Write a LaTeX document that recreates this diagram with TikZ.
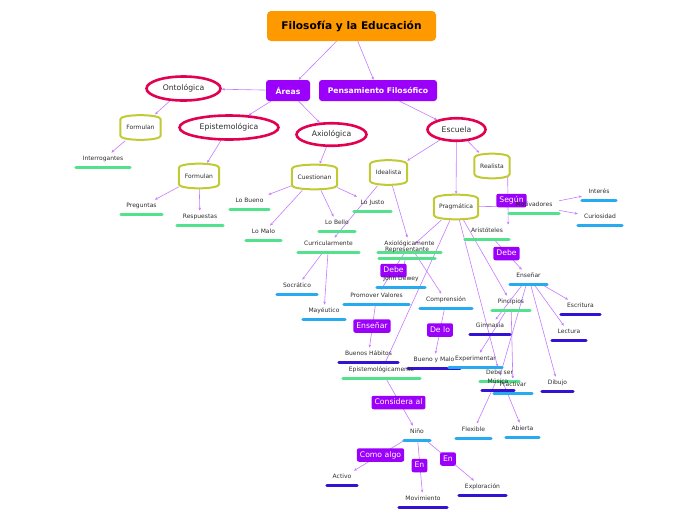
\documentclass[tikz,border=0pt]{standalone}
\usepackage{fontspec}
\setmainfont{DejaVu Sans}
\usetikzlibrary{shapes.geometric,arrows.meta,calc}
\pgfdeclarelayer{bg}
\pgfsetlayers{bg,main}
\definecolor{cline}{RGB}{196,122,255}
\definecolor{purp}{RGB}{155,0,250}
\definecolor{rootor}{RGB}{255,153,0}
\definecolor{ered}{RGB}{226,0,80}
\definecolor{olive}{RGB}{192,202,52}
\definecolor{ugreen}{RGB}{82,226,140}
\definecolor{ublue}{RGB}{38,170,240}
\definecolor{udark}{RGB}{52,18,212}
\definecolor{txt}{RGB}{45,45,45}
\tikzset{
  conn/.style={draw=cline, line width=0.6pt, -{Stealth[length=3pt,width=2.6pt]}},
  rootbox/.style={fill=rootor, rounded corners=4pt, minimum width=169pt, minimum height=30pt, inner sep=0pt, font=\fontsize{10.6}{12}\selectfont\bfseries, text=black},
  pbox/.style={fill=purp, rounded corners=3pt, minimum height=21pt, inner sep=0pt, font=\fontsize{7.7}{9}\selectfont\bfseries, text=white},
  ell/.style={ellipse, draw=ered, line width=2.6pt, inner sep=0pt, font=\fontsize{7.7}{9}\selectfont, text=txt},
  cyl/.style={rectangle, inner sep=0pt, font=\fontsize{6}{7}\selectfont, text=txt},
  cylline/.style={draw=olive, line width=2pt, line join=round},
  topic/.style={rectangle, inner sep=0pt, text height=8pt, text depth=6pt, anchor=south, font=\fontsize{6}{7}\selectfont, text=txt,
    append after command={(\tikzlastnode.south west) edge[draw=#1, line width=3pt, line cap=round, -] (\tikzlastnode.south east)}},
  lbl/.style={fill=purp, rounded corners=2pt, inner xsep=3pt, inner ysep=0pt, minimum height=13.5pt, text height=5.6pt, text depth=1.6pt, font=\fontsize{7.7}{9}\selectfont, text=white},
}
\newcommand\cylout[1]{%
  \draw[cylline] ([yshift=-5pt]#1.north west) .. controls ([yshift=0.5pt]#1.north west) and ([yshift=0.5pt]#1.north east) .. ([yshift=-5pt]#1.north east) -- ([yshift=5pt]#1.south east) .. controls ([yshift=-0.5pt]#1.south east) and ([yshift=-0.5pt]#1.south west) .. ([yshift=5pt]#1.south west) -- cycle;}
\begin{document}
\begin{tikzpicture}[x=1pt,y=-1pt]
\useasboundingbox (0,0) rectangle (696,520);
% main nodes
\node[rootbox] (root) at (351.5,26) {Filosofía y la Educación};
\node[pbox, minimum width=44pt] (areas) at (288,90.5) {Áreas};
\node[pbox, minimum width=118pt] (pf) at (378,90.5) {Pensamiento Filosófico};
\node[ell, minimum width=74pt, minimum height=24pt] (onto) at (183.5,88.5) {Ontológica};
\node[ell, minimum width=99pt, minimum height=24pt] (epi) at (229,127.5) {Epistemológica};
\node[ell, minimum width=70pt, minimum height=22.5pt] (axi) at (331.5,134.5) {Axiológica};
\node[ell, minimum width=58pt, minimum height=22.5pt] (esc) at (456.5,129.5) {Escuela};
% cylinders
\node[cyl, minimum width=40pt, minimum height=26pt] (f1) at (140.5,127.5) {Formulan};
\node[cyl, minimum width=40pt, minimum height=26pt] (f2) at (199,176) {Formulan};
\node[cyl, minimum width=45pt, minimum height=26pt] (cuest) at (314.5,177) {Cuestionan};
\node[cyl, minimum width=37pt, minimum height=26pt] (ideal) at (388.5,172.5) {Idealista};
\node[cyl, minimum width=35pt, minimum height=26pt] (real) at (492,166) {Realista};
\node[cyl, minimum width=44pt, minimum height=26pt] (prag) at (456,207) {Pragmática};
\cylout{f1}\cylout{f2}\cylout{cuest}\cylout{ideal}\cylout{real}\cylout{prag}
% topics
\node[topic=ugreen, minimum width=54pt] (interrog) at (103,167) {Interrogantes};
\node[topic=ugreen, minimum width=41pt] (preg) at (141.5,214) {Preguntas};
\node[topic=ugreen, minimum width=46pt] (resp) at (200,225) {Respuestas};
\node[topic=ugreen, minimum width=39pt] (bueno) at (249.5,209) {Lo Bueno};
\node[topic=ugreen, minimum width=35pt] (malo) at (263.5,240) {Lo Malo};
\node[topic=ugreen, minimum width=36pt] (bello) at (337,231) {Lo Bello};
\node[topic=ugreen, minimum width=37pt] (justo) at (372.5,211) {Lo Justo};
\node[topic=ugreen, minimum width=61pt] (curr) at (328.5,252) {Curricularmente};
\node[topic=ugreen, minimum width=63pt] (axio) at (409.5,252) {Axiológicamente};
\node[topic=ugreen, minimum width=56pt] (repr) at (407,258) {Representante};
\node[topic=ublue, minimum width=40pt] (socr) at (297,294) {Socrático};
\node[topic=ublue, minimum width=42pt] (mayeu) at (324,319) {Mayéutico};
\node[topic=ublue, minimum width=48pt] (dewey) at (401,287) {John Dewey};
\node[topic=ublue, minimum width=65pt] (prom) at (376.5,304) {Promover Valores};
\node[topic=ublue, minimum width=52pt] (compr) at (446,308) {Comprensión};
\node[topic=udark, minimum width=59pt] (buenos) at (368.5,362) {Buenos Hábitos};
\node[topic=udark, minimum width=52pt] (bym) at (434,368) {Bueno y Malo};
\node[topic=ublue, minimum width=53pt] (experim) at (475.5,367) {Experimentar};
\node[topic=ugreen, minimum width=77pt] (epistem) at (381.5,378) {Epistemológicamente};
\node[topic=ugreen, minimum width=44pt] (arist) at (487,239) {Aristóteles};
\node[topic=ugreen, minimum width=50pt] (motiv) at (534,213) {Motivadores};
\node[topic=ublue, minimum width=34pt] (interes) at (599,200) {Interés};
\node[topic=ublue, minimum width=44pt] (curios) at (600,225) {Curiosidad};
\node[topic=ublue, minimum width=37pt] (ensenar) at (528.5,284) {Enseñar};
\node[topic=ugreen, minimum width=38pt] (pinc) at (511,310) {Pincipios};
\node[topic=udark, minimum width=40pt] (gimn) at (490,334) {Gimnasia};
\node[topic=udark, minimum width=39pt] (escrit) at (580.5,314) {Escritura};
\node[topic=udark, minimum width=34pt] (lect) at (569,340) {Lectura};
\node[topic=udark, minimum width=31pt] (dibujo) at (557.5,391) {Dibujo};
\node[topic=ugreen, minimum width=39pt] (debeser) at (499.5,381) {Debe ser};
\node[topic=udark, minimum width=32pt] (musica) at (498,390) {Música};
\node[topic=ublue, minimum width=38pt] (practivar) at (513,393) {Practivar};
\node[topic=ublue, minimum width=35pt] (flex) at (473.5,438) {Flexible};
\node[topic=ublue, minimum width=33pt] (abierta) at (522.5,437) {Abierta};
\node[topic=ublue, minimum width=26pt] (nino) at (417,440) {Niño};
\node[topic=udark, minimum width=30pt] (activo) at (342,485) {Activo};
\node[topic=udark, minimum width=48pt] (movim) at (423,507) {Movimiento};
\node[topic=udark, minimum width=47pt] (explor) at (482.5,495) {Exploración};
\begin{pgfonlayer}{bg}
\draw[conn] (root) -- (areas);
\draw[conn] (root) -- (pf);
\draw[conn] (areas) -- (onto);
\draw[conn] (areas) -- (epi);
\draw[conn] (areas) -- (axi);
\draw[conn] (pf) -- (esc);
\draw[conn] (onto) -- (f1);
\draw[conn] (f1) -- (interrog);
\draw[conn] (epi) -- (f2);
\draw[conn] (f2) -- (preg);
\draw[conn] (f2) -- (resp);
\draw[conn] (axi) -- (cuest);
\draw[conn] (cuest) -- (bueno);
\draw[conn] (cuest) -- (malo);
\draw[conn] (cuest) -- (bello);
\draw[conn] (cuest) -- (justo);
\draw[conn] (esc) -- (ideal);
\draw[conn] (esc) -- (real);
\draw[conn] (esc) -- (prag);
\draw[conn] (ideal) -- (curr);
\draw[conn] (ideal) -- (axio);
\draw[conn] (curr) -- (socr);
\draw[conn] (curr) -- (mayeu);
\draw[conn] (axio) -- (prom);
\draw[conn] (axio) -- (compr);
\draw[conn] (prom) -- (buenos);
\draw[conn] (compr) -- (bym);
\draw[conn] (prag) -- (repr);
\draw[conn] (repr) -- (dewey);
\draw[conn] (prag) -- (epistem);
\draw[conn] (epistem) -- (nino);
\draw[conn] (nino) -- (activo);
\draw[conn] (nino) -- (movim);
\draw[conn] (nino) -- (explor);
\draw[conn] (prag) -- (motiv);
\draw[conn] (motiv) -- (interes);
\draw[conn] (motiv) -- (curios);
\draw[conn] ([xshift=-2pt,yshift=2pt]real.south east) -- ([xshift=-1pt]arist.north east);
\draw[conn] (arist) -- (ensenar);
\draw[conn] (ensenar) -- (escrit);
\draw[conn] (ensenar) -- (lect);
\draw[conn] (ensenar) -- (dibujo);
\draw[conn] (ensenar) -- (gimn);
\draw[conn] (ensenar) -- (musica);
\draw[conn] (prag) -- (pinc);
\draw[conn] (pinc) -- (experim);
\draw[conn] (pinc) -- (practivar);
\draw[conn] (prag) -- (debeser);
\draw[conn] (debeser) -- (flex);
\draw[conn] (debeser) -- (abierta);
% connector labels
\node[lbl] (segun) at (511.5,200.5) {Según};
\node[lbl] (debea) at (393.5,270.5) {Debe};
\node[lbl] (debeb) at (506.5,253.5) {Debe};
\node[lbl] (enslbl) at (372,326) {Enseñar};
\node[lbl] (delo) at (440,330) {De lo};
\node[lbl] (consid) at (398.5,402.5) {Considera al};
\node[lbl] (como) at (380.5,455) {Como algo};
\node[lbl] (ena) at (419.5,465.5) {En};
\node[lbl] (enb) at (448,459) {En};
\end{pgfonlayer}
\end{tikzpicture}
\end{document}
